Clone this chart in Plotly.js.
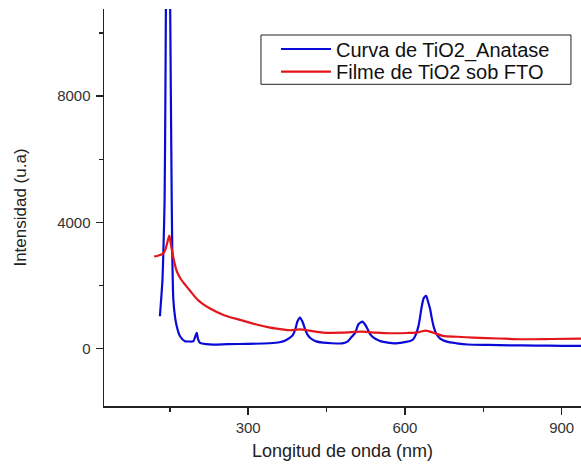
<!DOCTYPE html>
<html>
<head>
<meta charset="utf-8">
<script src="https://cdn.plot.ly/plotly-3.0.1.min.js"></script>
<style>html,body{margin:0;padding:0;background:#fff;}#chart{width:581px;height:466px;}</style>
</head>
<body>
<div id="chart"></div>
<script>
// Curva de TiO2_Anatase (blue)
var anataseX = [131,134,136,138,140,141.5,143,146.5,150,152,153.6,155,156.7,160,163.2,169.5,179,187,195,198,201.5,204,207.8,220,233,260,300,340,360,370,380,385,390,394,399,404,409,414,420,430,443,460,480,489,497,505,511,518.6,523,527,533,540,550,559,580,597,610,616,621,626,629,632.4,636,640.6,644,648.3,651,654.6,660,667.4,680,699,720,760,800,850,900,937];
var anataseY = [1025,1700,2200,3300,4700,8000,12000,16000,12000,8000,4730,2700,1556,1000,708,390,232,225,232,350,498,300,180,140,127,140,150,170,200,250,350,420,600,850,984,850,610,430,320,230,190,170,165,212,350,508,772,857,780,667,470,349,260,212,168,200,240,296,450,720,1000,1355,1600,1673,1500,1248,1000,720,470,317,220,168,130,115,105,95,88,86];
// Filme de TiO2 sob FTO (red)
var filmeX = [120,126,131,136,140.8,145,149,152,156.7,163,170,180,188.7,205,227,255,284.4,312,342,365,380,399,420,443,480,518.6,545,571.7,605,625,640.6,655,673,700,730.6,780,826,880,937];
var filmeY = [2921,2935,2963,3000,3100,3350,3578,3300,2890,2467,2230,2010,1832,1520,1270,1050,911,780,667,610,582,610,560,508,505,535,505,487,495,515,570,500,402,375,349,320,296,305,317];
var seriesNames = ['Curva de TiO2_Anatase', 'Filme de TiO2 sob FTO'];
var xTicks = [300, 600, 900];
var yTicks = [0, 4000, 8000];

var font = 'Liberation Sans, Arial, sans-serif';
var traces = [
  {x: anataseX, y: anataseY, name: seriesNames[0], type: 'scatter', mode: 'lines', legend: 'legend',
   line: {color: '#0a0ad8', width: 2.2, shape: 'spline', smoothing: 0.6}},
  {x: filmeX, y: filmeY, name: seriesNames[1], type: 'scatter', mode: 'lines', legend: 'legend2',
   line: {color: '#e3161c', width: 2.2, shape: 'spline', smoothing: 0.8}}
];
var axisCommon = {
  showgrid: false, zeroline: false, showline: true, linecolor: '#222', linewidth: 1.5,
  ticks: 'outside', ticklen: 7, tickwidth: 1.5, tickcolor: '#222',
  tickfont: {family: font, size: 15, color: '#333'},
  minor: {ticks: 'outside', ticklen: 4, tickwidth: 1.5, tickcolor: '#222'}
};
var legendCommon = {
  x: 0.3606, xanchor: 'left', yanchor: 'middle',
  bgcolor: 'rgba(0,0,0,0)', borderwidth: 0, itemwidth: 50,
  font: {family: font, size: 20, color: '#111'}
};
var layout = {
  width: 581, height: 466,
  margin: {l: 104, r: 0, t: 9, b: 60},
  paper_bgcolor: '#fff', plot_bgcolor: '#fff',
  showlegend: true,
  legend: Object.assign({}, legendCommon, {y: 0.8992}),
  legend2: Object.assign({}, legendCommon, {y: 0.8421}),
  shapes: [{type: 'rect', xref: 'paper', yref: 'paper', x0: 0.3291, x1: 0.979, y0: 0.8103, y1: 0.9345,
    line: {color: '#222', width: 1}, fillcolor: '#fff', layer: 'below'}],
  xaxis: Object.assign({}, axisCommon, {
    range: [24, 937], tickvals: xTicks, ticktext: xTicks.map(String),
    minor: Object.assign({}, axisCommon.minor, {tickvals: [150, 450, 750]}),
    title: {text: 'Longitud de onda (nm)', font: {family: font, size: 18, color: '#222'}, standoff: 10}
  }),
  yaxis: Object.assign({}, axisCommon, {
    range: [-1819, 10762], tickvals: yTicks, ticktext: yTicks.map(String),
    ticklabelstandoff: 2,
    minor: Object.assign({}, axisCommon.minor, {tickvals: [-2000, 2000, 6000, 10000]}),
    title: {text: 'Intensidad (u.a)', font: {family: font, size: 17, color: '#222'}, standoff: 26}
  })
};
Plotly.newPlot('chart', traces, layout, {staticPlot: true, displayModeBar: false});
</script>
</body>
</html>
